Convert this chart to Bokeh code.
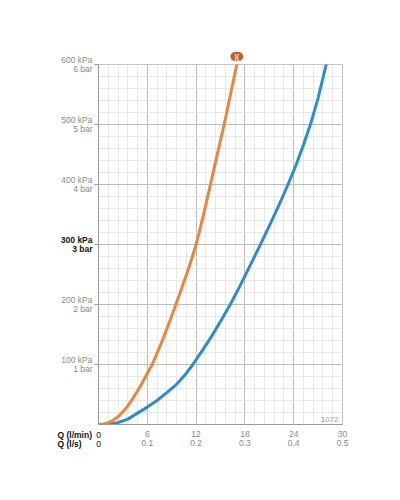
from bokeh.plotting import figure
from bokeh.models import SingleIntervalTicker, FixedTicker, Label, Range1d
from bokeh.embed import file_html
from bokeh.resources import INLINE

# ---- data ----
orange_q = [0, 0.6, 1.2, 1.8, 2.4, 3.0, 3.6, 4.2, 4.8, 5.4, 6.0, 6.6, 7.3, 8.0, 8.7, 9.4,
            10.2, 11.0, 11.6, 12.1, 12.8, 13.7, 14.6, 15.45, 16.2, 17.0]
orange_p = [0, 1, 3, 7, 13, 21, 31, 43, 56, 70, 85, 100, 122, 145, 170, 196,
            226, 257, 282, 305, 343, 396, 450, 500, 548, 600]

blue_q = [0, 1.2, 2.4, 3.6, 4.8, 6.0, 7.2, 8.4, 9.6, 10.6, 11.6, 12.8, 14.0, 15.1, 16.2,
          17.4, 18.6, 19.8, 21.0, 22.2, 23.3, 24.3, 25.2, 26.1, 27.0, 28.0]
blue_p = [0, 0.5, 3, 9, 19, 29, 40, 53, 67, 82, 100, 124, 149, 174, 200,
          231, 264, 297, 331, 366, 400, 433, 466, 502, 544, 600]

q_lmin_ticks = [0, 6, 12, 18, 24, 30]
q_ls_labels = ["0", "0.1", "0.2", "0.3", "0.4", "0.5"]
p_ticks = [100, 200, 300, 400, 500, 600]
p_kpa_labels = ["100 kPa", "200 kPa", "300 kPa", "400 kPa", "500 kPa", "600 kPa"]
p_bar_labels = ["1 bar", "2 bar", "3 bar", "4 bar", "5 bar", "6 bar"]
bold_tick = 300
code_text = "1072"

FONT = "Liberation Sans"
GREY = "#8a8a8a"
FS = "8.5px"
LH = 0.95

p = figure(x_range=Range1d(0, 30), y_range=Range1d(0, 600),
           frame_width=244, frame_height=360,
           min_border_left=98, min_border_top=64, min_border_right=58, min_border_bottom=76,
           output_backend="svg", toolbar_location=None)
p.background_fill_color = "white"
p.border_fill_color = "white"
p.outline_line_color = "#c4c4c4"

# grids
p.xgrid.ticker = SingleIntervalTicker(interval=6, num_minor_ticks=5)
p.ygrid.ticker = SingleIntervalTicker(interval=100, num_minor_ticks=5)
for g in (p.xgrid, p.ygrid):
    g.grid_line_color = "#bcbcbc"
    g.grid_line_width = 1
    g.minor_grid_line_color = "#e8e8e8"
    g.minor_grid_line_width = 1

# x axis: two-row labels
xa = p.xaxis[0]
xa.ticker = FixedTicker(ticks=q_lmin_ticks)
xa.major_label_overrides = {t: ("" if t == 0 else f"{t}\n{s}") for t, s in zip(q_lmin_ticks, q_ls_labels)}
xa.major_tick_out = 0
xa.major_tick_in = 0
xa.minor_tick_out = 0
xa.minor_tick_in = 0
xa.axis_line_color = "#9a9a9a"
xa.major_label_standoff = 4
xa.major_label_text_font = FONT
xa.major_label_text_font_size = FS
xa.major_label_text_color = GREY
xa.major_label_text_line_height = LH

# y axis: two-row labels
ya = p.yaxis[0]
ya.ticker = FixedTicker(ticks=p_ticks)
ya.major_label_overrides = {t: ("" if t == bold_tick else f"{k}\n{b}") for t, k, b in zip(p_ticks, p_kpa_labels, p_bar_labels)}
ya.major_tick_out = 4
ya.major_tick_in = 0
ya.minor_tick_out = 0
ya.minor_tick_in = 0
ya.major_tick_line_color = "#9a9a9a"
ya.axis_line_color = "#9a9a9a"
ya.major_label_standoff = 2
ya.major_label_text_font = FONT
ya.major_label_text_font_size = FS
ya.major_label_text_color = GREY
ya.major_label_text_align = "right"
ya.major_label_text_line_height = LH

# curves
p.line(blue_q, blue_p, line_width=3, line_color="#2c8bd3", line_join="round", line_cap="round")
p.line(orange_q, orange_p, line_width=3, line_color="#e9863b", line_join="round", line_cap="round")

def lab(**kw):
    base = dict(text_font=FONT, text_font_size=FS, text_baseline="middle", text_line_height=LH)
    base.update(kw)
    return Label(**base)

# bold tick label (in the left panel so it is not clipped to the frame)
bi = p_ticks.index(bold_tick)
p.add_layout(lab(x=0, y=bold_tick, x_offset=-6, text=f"{p_kpa_labels[bi]}\n{p_bar_labels[bi]}",
                 text_align="right", text_font_style="bold", text_color="#111111"), "left")

# axis titles (bold, left of x labels) and black zero labels
p.add_layout(lab(x=0, y=0, x_offset=-41, y_offset=-10, text="Q (l/min)", text_align="left",
                 text_font_style="bold", text_color="#111111"), "below")
p.add_layout(lab(x=0, y=0, x_offset=-41, y_offset=-19.5, text="Q (l/s)", text_align="left",
                 text_font_style="bold", text_color="#111111"), "below")
p.add_layout(lab(x=q_lmin_ticks[0], y=0, y_offset=-10, text=str(q_lmin_ticks[0]), text_align="center",
                 text_color="#111111"), "below")
p.add_layout(lab(x=q_lmin_ticks[0], y=0, y_offset=-19.5, text=q_ls_labels[0], text_align="center",
                 text_color="#111111"), "below")

# code label inside plot
p.add_layout(lab(x=30, y=0, x_offset=-4, y_offset=5, text=code_text, text_align="right",
                 text_font_size="8px", text_color="#9a9a9a"))

# marker at end of orange curve
p.add_layout(lab(x=orange_q[-1], y=orange_p[-1], y_offset=8, text=")(", text_align="center",
                 text_font_size="7px", text_font_style="bold",
                 text_color="white", background_fill_color="#c55b2b",
                 border_radius=5, padding=(4, 1)), "above")

open("out.html", "w").write(file_html(p, INLINE))
